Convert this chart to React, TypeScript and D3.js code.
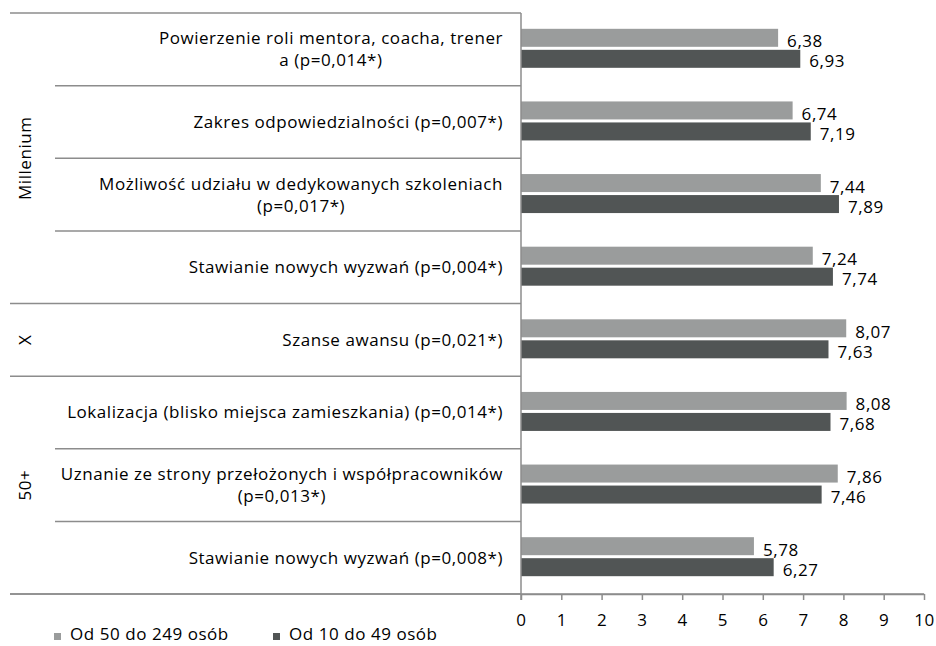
import { useEffect, useRef } from "react";
import * as d3 from "d3";

// categories, top to bottom (multi-line labels split by "\n")
const categories = [
    "Powierzenie roli mentora, coacha, trener\na (p=0,014*)",
    "Zakres odpowiedzialności (p=0,007*)",
    "Możliwość udziału w dedykowanych szkoleniach\n(p=0,017*)",
    "Stawianie nowych wyzwań (p=0,004*)",
    "Szanse awansu (p=0,021*)",
    "Lokalizacja (blisko miejsca zamieszkania) (p=0,014*)",
    "Uznanie ze strony przełożonych i współpracowników\n(p=0,013*)",
    "Stawianie nowych wyzwań (p=0,008*)",
];
const groups = ["Millenium", "X", "50+"];
const groupSizes = [4, 1, 3];
const seriesNames = ["Od 50 do 249 osób", "Od 10 do 49 osób"];
const medium = [6.38, 6.74, 7.44, 7.24, 8.07, 8.08, 7.86, 5.78];
const small = [6.93, 7.19, 7.89, 7.74, 7.63, 7.68, 7.46, 6.27];
const xTicks = [0, 1, 2, 3, 4, 5, 6, 7, 8, 9, 10];

const W = 936;
const H = 646;
const FONT = "'Open Sans', sans-serif";
const FS = 17;
const LS = "0.55px";
const colors = ["#9a9c9c", "#515555"];
const lineColor = "#8c8c8c";

function App() {
    const svgRef = useRef<SVGSVGElement>(null);

    useEffect(() => {
        const svg = d3.select(svgRef.current);
        svg.selectAll("*").remove();

        const axisX = 521;
        const top = 13;
        const bottom = 594;

        const x = d3.scaleLinear().domain([0, 10]).range([axisX, 924]);
        const y = d3
            .scaleBand<number>()
            .domain(d3.range(categories.length))
            .range([top, bottom]);

        const g = svg
            .append("g")
            .style("font-family", FONT)
            .style("letter-spacing", LS);

        // separators
        const groupStarts = new Set<number>();
        let acc = 0;
        groupSizes.forEach((s) => {
            groupStarts.add(acc);
            acc += s;
        });
        d3.range(categories.length + 1).forEach((i) => {
            const yy = i === categories.length ? bottom : y(i)!;
            const isGroup = i === categories.length || groupStarts.has(i);
            g.append("line")
                .attr("x1", isGroup ? 10 : 55)
                .attr("x2", axisX)
                .attr("y1", yy)
                .attr("y2", yy)
                .attr("stroke", lineColor)
                .attr("stroke-width", 1.5);
        });

        // bars
        const barH = 18;
        const gap = 3;
        const bw = y.bandwidth();
        [medium, small].forEach((series, si) => {
            g.append("g")
                .selectAll("rect")
                .data(series)
                .join("rect")
                .attr("x", x(0))
                .attr("y", (d, i) => y(i)! + bw / 2 - barH - gap / 2 + si * (barH + gap) - 1)
                .attr("width", (d) => x(d) - x(0))
                .attr("height", barH)
                .attr("fill", colors[si]);

            g.append("g")
                .selectAll("text")
                .data(series)
                .join("text")
                .attr("x", (d) => x(d) + 9)
                .attr("y", (d, i) => y(i)! + bw / 2 + (si === 0 ? -8 : 12))
                .attr("dy", "0.35em")
                .attr("font-size", FS)
                .attr("fill", "#000")
                .text((d) => d.toFixed(2).replace(".", ","));
        });

        // axis
        const axis = d3
            .axisBottom(x)
            .tickValues(xTicks)
            .tickSize(6)
            .tickSizeOuter(0)
            .tickPadding(14)
            .tickFormat((d) => String(d));
        const ax = g
            .append("g")
            .attr("transform", `translate(0,${bottom})`)
            .call(axis);
        ax.select(".domain").attr("stroke", lineColor).attr("stroke-width", 1.5);
        ax.selectAll(".tick line").attr("stroke", lineColor).attr("stroke-width", 1.5);
        ax.selectAll(".tick text")
            .attr("font-size", FS)
            .attr("font-family", FONT)
            .attr("fill", "#000");

        g.append("line")
            .attr("x1", axisX)
            .attr("x2", axisX)
            .attr("y1", top)
            .attr("y2", bottom + 6)
            .attr("stroke", lineColor)
            .attr("stroke-width", 1.5);
        g.append("line")
            .attr("x1", 10)
            .attr("x2", 924)
            .attr("y1", bottom)
            .attr("y2", bottom)
            .attr("stroke", lineColor)
            .attr("stroke-width", 1.5);

        // category labels
        categories.forEach((c, i) => {
            const lines = c.split("\n");
            const t = g
                .append("text")
                .attr("font-size", FS)
                .attr("fill", "#000")
                .attr("text-anchor", "middle");
            const lh = 22;
            const y0 = y(i)! + bw / 2 - ((lines.length - 1) * lh) / 2;
            lines.forEach((l, k) => {
                t.append("tspan")
                    .attr("y", y0 + k * lh)
                    .attr("dy", "0.35em")
                    .text(l);
            });
            let maxW = 0;
            t.selectAll<SVGTSpanElement, unknown>("tspan").each(function () {
                maxW = Math.max(maxW, this.getComputedTextLength());
            });
            t.selectAll("tspan").attr("x", 503 - maxW / 2);
        });

        // group labels
        let start = 0;
        groups.forEach((name, gi) => {
            const y1 = y(start)!;
            const end = start + groupSizes[gi];
            const y2 = end === categories.length ? bottom : y(end)!;
            g.append("text")
                .attr("transform", `translate(25,${(y1 + y2) / 2}) rotate(-90)`)
                .attr("text-anchor", "middle")
                .attr("dy", "0.35em")
                .attr("font-size", FS)
                .attr("fill", "#000")
                .text(name);
            start = end;
        });

        // legend
        const legendX = [54, 273];
        seriesNames.forEach((name, si) => {
            g.append("rect")
                .attr("x", legendX[si])
                .attr("y", 633)
                .attr("width", 7)
                .attr("height", 7)
                .attr("fill", colors[si]);
            g.append("text")
                .attr("x", legendX[si] + 16)
                .attr("y", 634)
                .attr("dy", "0.35em")
                .attr("font-size", FS)
                .attr("fill", "#000")
                .text(name);
        });
    }, []);

    return (
        <svg
            ref={svgRef}
            width={W}
            height={H}
            style={{ position: "absolute", left: 0, top: 0, background: "#fff" }}
        ></svg>
    );
}

export default App;
